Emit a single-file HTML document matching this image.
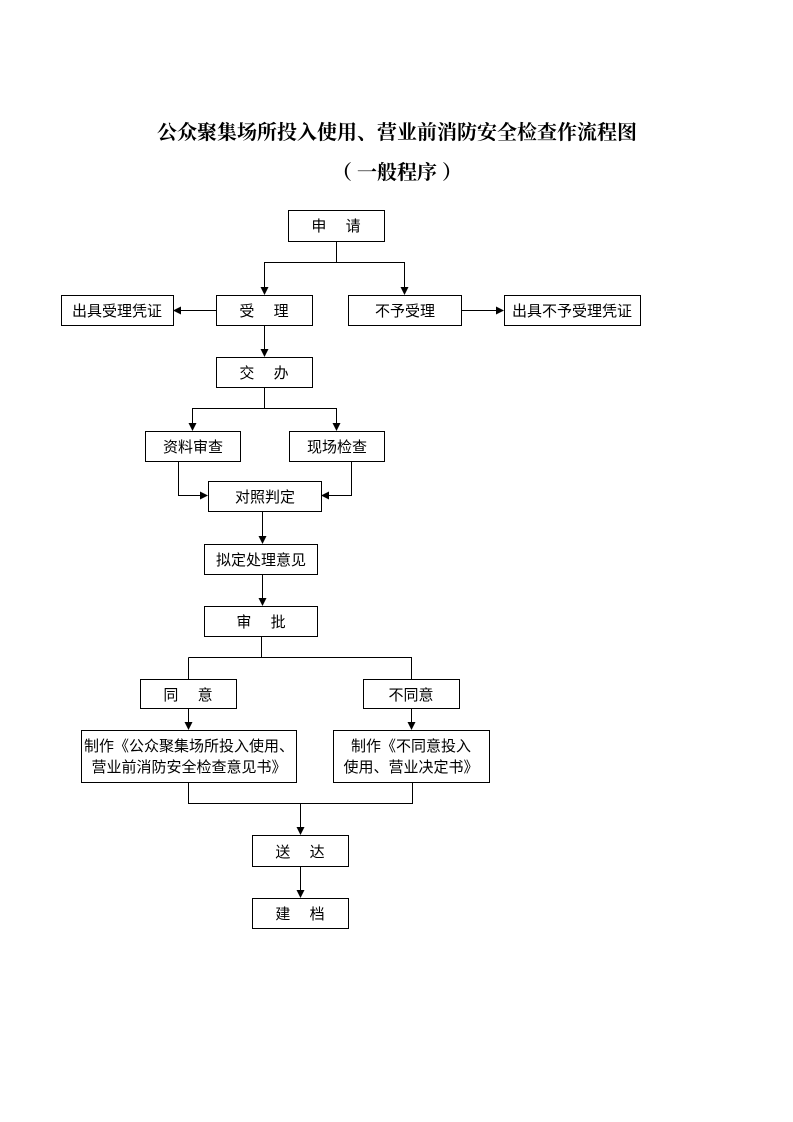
<!DOCTYPE html>
<html><head><meta charset="utf-8"><style>
html,body{margin:0;padding:0;background:#fff}
svg{display:block}
text{font-family:"Liberation Sans","Noto Sans CJK SC",sans-serif;font-size:15px;fill:#000}
.t{font-family:"Liberation Serif","Noto Serif CJK SC",serif;font-weight:bold;font-size:20px}
</style></head><body>
<svg width="793" height="1122" viewBox="0 0 793 1122" xmlns="http://www.w3.org/2000/svg">
<defs><marker id="a" markerWidth="8" markerHeight="8" refX="7" refY="4" orient="auto" markerUnits="userSpaceOnUse"><path d="M0,0 L8,4 L0,8 z" fill="#000"/></marker></defs>
<text class="t" x="397" y="139" text-anchor="middle">公众聚集场所投入使用、营业前消防安全检查作流程图</text>
<text class="t" x="397" y="179" text-anchor="middle" xml:space="preserve">（ 一般程序 ）</text>
<g fill="none" stroke="#000" stroke-width="1">
<rect x="288.5" y="210.5" width="96" height="31"/>
<rect x="216.5" y="295.5" width="96" height="30"/>
<rect x="61.5" y="295.5" width="112" height="30"/>
<rect x="348.5" y="295.5" width="113" height="30"/>
<rect x="504.5" y="295.5" width="136" height="30"/>
<rect x="216.5" y="357.5" width="96" height="30"/>
<rect x="145.5" y="431.5" width="95" height="30"/>
<rect x="289.5" y="431.5" width="95" height="30"/>
<rect x="208.5" y="481.5" width="113" height="30"/>
<rect x="204.5" y="544.5" width="113" height="30"/>
<rect x="204.5" y="606.5" width="113" height="30"/>
<rect x="140.5" y="679.5" width="96" height="29"/>
<rect x="363.5" y="679.5" width="96" height="29"/>
<rect x="81.5" y="730.5" width="215" height="52"/>
<rect x="333.5" y="730.5" width="156" height="52"/>
<rect x="252.5" y="835.5" width="96" height="31"/>
<rect x="252.5" y="898.5" width="96" height="30"/>
<path d="M336.5,241 V262.5 M264.5,262.5 H404.5"/>
<path d="M264.5,262 V294" marker-end="url(#a)"/>
<path d="M404.5,262 V294" marker-end="url(#a)"/>
<path d="M216,310.5 H174" marker-end="url(#a)"/>
<path d="M461,310.5 H503" marker-end="url(#a)"/>
<path d="M264.5,326 V356" marker-end="url(#a)"/>
<path d="M264.5,388 V408.5 M192.5,408.5 H336.5"/>
<path d="M192.5,408 V430" marker-end="url(#a)"/>
<path d="M336.5,408 V430" marker-end="url(#a)"/>
<path d="M178.5,462 V495.5 H207" marker-end="url(#a)"/>
<path d="M351.5,462 V495.5 H322" marker-end="url(#a)"/>
<path d="M262.5,512 V543" marker-end="url(#a)"/>
<path d="M262.5,575 V605" marker-end="url(#a)"/>
<path d="M261.5,637 V657.5 M188.5,657.5 H411.5 V679 M188.5,657.5 V679"/>
<path d="M188.5,709 V729" marker-end="url(#a)"/>
<path d="M411.5,709 V729" marker-end="url(#a)"/>
<path d="M188.5,783 V803.5 H412.5 V783"/>
<path d="M300.5,803 V834" marker-end="url(#a)"/>
<path d="M300.5,867 V897" marker-end="url(#a)"/>
</g>
<g text-anchor="middle">
<text x="336" y="231">申　 请</text>
<text x="264" y="316">受　 理</text>
<text x="117" y="316">出具受理凭证</text>
<text x="405" y="316">不予受理</text>
<text x="572" y="316">出具不予受理凭证</text>
<text x="264" y="378">交　 办</text>
<text x="193" y="452">资料审查</text>
<text x="337" y="452">现场检查</text>
<text x="265" y="502">对照判定</text>
<text x="261" y="565">拟定处理意见</text>
<text x="261" y="627">审　 批</text>
<text x="188" y="700">同　 意</text>
<text x="411" y="700">不同意</text>
<text x="189" y="751">制作《公众聚集场所投入使用、</text>
<text x="189" y="772">营业前消防安全检查意见书》</text>
<text x="411" y="751">制作《不同意投入</text>
<text x="411" y="772">使用、营业决定书》</text>
<text x="300" y="857">送　 达</text>
<text x="300" y="919">建　 档</text>
</g>
</svg>
</body></html>
